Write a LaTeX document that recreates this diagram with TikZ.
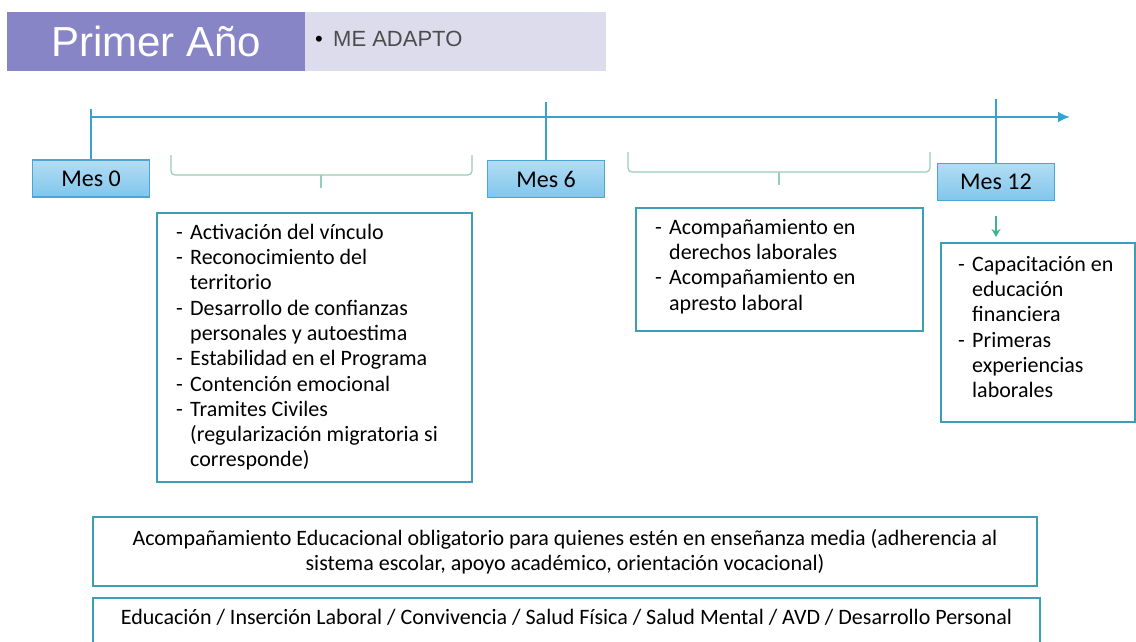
\documentclass[tikz,border=0pt]{standalone}
\usepackage{fontspec}
\setmainfont{Carlito}
\newfontfamily\headfont{Liberation Sans}
\usetikzlibrary{positioning, arrows.meta}
\definecolor{headpurple}{RGB}{135,133,198}
\definecolor{headlight}{RGB}{221,220,236}
\definecolor{lineblue}{RGB}{52,163,212}
\definecolor{mesfill}{RGB}{128,198,236}
\definecolor{mesborder}{RGB}{75,165,215}
\definecolor{boxteal}{RGB}{60,158,185}
\definecolor{bracegreen}{RGB}{150,205,182}
\definecolor{arrowgreen}{RGB}{62,182,140}
\newcommand{\dsh}{\makebox[14pt][l]{-}}
\newcommand{\ind}{\hspace*{14pt}}
\newcommand{\lst}{\fontsize{22}{25.3}\selectfont}
\newcommand{\topstrut}{\rule{0pt}{17pt}}

\begin{document}
\begin{tikzpicture}[x=1pt, y=-1pt, >=Stealth,
	mesbox/.style={draw=mesborder, line width=1.2pt, top color=mesfill!60!white, bottom color=mesfill, minimum width=117pt, minimum height=37pt, font=\fontsize{24}{28}\selectfont},
	listbox/.style={draw=boxteal, line width=2pt, inner sep=0pt},
	listtext/.style={anchor=north west, inner sep=0pt, align=left, font=\lst},
	bracket/.style={draw=bracegreen, line width=1.2pt, rounded corners=4pt},
	axis/.style={draw=lineblue, line width=2.5pt}]
	\useasboundingbox (0,0) rectangle (1136,641);

	% header
	\node[fill=headpurple, minimum width=298pt, minimum height=59pt, anchor=north west, inner sep=0pt, text=white, font=\headfont\fontsize{42}{48}\selectfont] (anio) at (7,12) {Primer Año};
	\node[fill=headlight, minimum width=301pt, minimum height=59pt, anchor=north west, inner sep=0pt] (adapto) at (305,12) {};
	\node[anchor=west, inner sep=0pt, text=black!70, font=\headfont\fontsize{22}{26}\selectfont] (adaptotxt) at (315,39) {\makebox[18pt][l]{\textcolor{black}{\textbullet}}ME ADAPTO};

	% timeline
	\coordinate (tstart) at (91,117);
	\coordinate (tend) at (1070,117);
	\draw[axis, -{Latex[length=12pt,width=11pt]}] (tstart) -- (tend);

	\node[mesbox] (mes0) at (91,178.5) {Mes 0};
	\node[mesbox] (mes6) at (546,179) {Mes 6};
	\node[mesbox] (mes12) at (996,182) {Mes 12};
	\draw[axis] (mes0.north) -- ++(0,-50);
	\draw[axis] (mes6.north) -- ++(0,-58);
	\draw[axis] (mes12.north) -- ++(0,-64);

	% brackets
	\draw[bracket] (171,155) -- (171,175) -- (472,175) -- (472,155);
	\draw[bracket] (321,175) -- (321,188);
	\draw[bracket] (628,152) -- (628,172) -- (930,172) -- (930,152);
	\draw[bracket] (779,172) -- (779,185);

	% phase boxes
	\node[listbox, minimum width=315pt, minimum height=269pt, anchor=north west] (fase1) at (156,212) {};
	\node[listtext] (fase1txt) at (176,222) {\topstrut\dsh Activación del vínculo\\
		\dsh Reconocimiento del\\ \ind territorio\\
		\dsh Desarrollo de confianzas\\ \ind personales y autoestima\\
		\dsh Estabilidad en el Programa\\
		\dsh Contención emocional\\
		\dsh Tramites Civiles\\ \ind (regularización migratoria si\\ \ind corresponde)};

	\node[listbox, minimum width=287pt, minimum height=123pt, anchor=north west] (fase2) at (635,207) {};
	\node[listtext] (fase2txt) at (655,217) {\topstrut\dsh Acompañamiento en\\ \ind derechos laborales\\
		\dsh Acompañamiento en\\ \ind apresto laboral};

	\node[listbox, minimum width=194pt, minimum height=179pt, anchor=north west] (fase3) at (940,242) {};
	\node[listtext] (fase3txt) at (958,254) {\topstrut\dsh Capacitación en\\ \ind educación\\ \ind financiera\\
		\dsh Primeras\\ \ind experiencias\\ \ind laborales};
	\draw[arrowgreen, line width=1.5pt, -{Stealth[length=8pt,width=9pt]}, shorten <=15pt, shorten >=5pt] (mes12.south) -- (mes12.south |- fase3.north);

	% transversal boxes
	\node[listbox, minimum width=944pt, minimum height=69pt, align=center, font=\lst] (educ) at (565,551.5) {Acompañamiento Educacional obligatorio para quienes estén en enseñanza media (adherencia al\\ sistema escolar, apoyo académico, orientación vocacional)};
	\node[listbox, anchor=north, minimum width=947pt, text height=14pt, text depth=30pt, inner ysep=12pt, font=\lst] (areas) at (566.5,597) {Educación / Inserción Laboral / Convivencia / Salud Física / Salud Mental / AVD / Desarrollo Personal};
\end{tikzpicture}
\end{document}
